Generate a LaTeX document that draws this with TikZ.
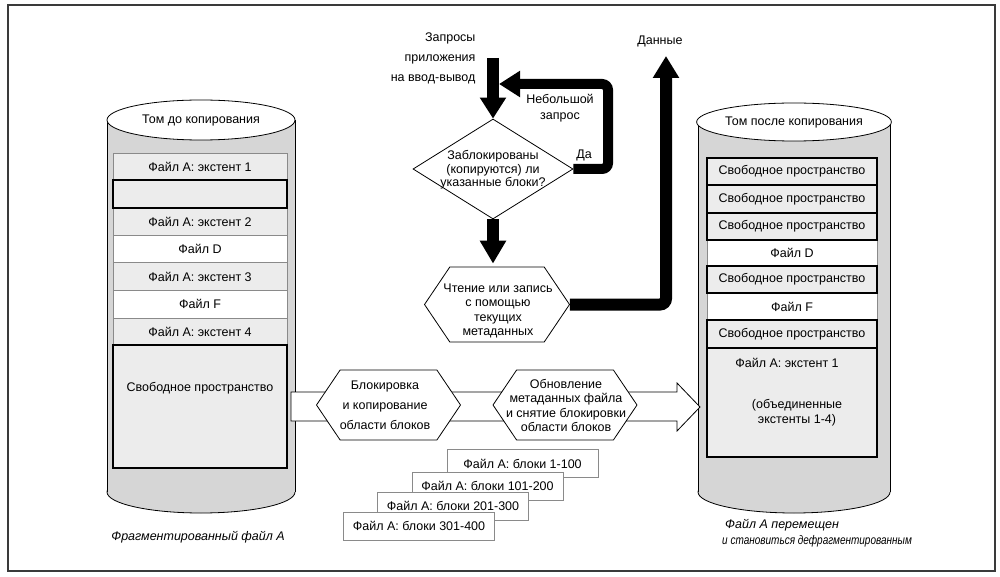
\documentclass[tikz,border=0pt]{standalone}
\usepackage{fontspec}
\usepackage{graphicx}
\setmainfont{Liberation Sans}
\usetikzlibrary{arrows.meta,shapes.geometric,shapes.symbols}
\definecolor{cylgray}{HTML}{D6D6D6}
\definecolor{rowgray}{HTML}{ECECEC}
\definecolor{rowline}{HTML}{8A8A8A}
\definecolor{framec}{HTML}{3A3A3A}
\newcommand\myfs[1]{\fontsize{12.5}{#1}\selectfont}
\begin{document}
\begin{tikzpicture}[x=1pt,y=-1pt,
  every node/.style={font=\myfs{15}},
  cell/.style={draw=rowline, line width=0.6pt, fill=rowgray, inner sep=0},
  lcell/.style={cell, minimum width=174pt},
  rcell/.style={cell, minimum width=170pt},
  thickcell/.style={draw=black, line width=1.1pt},
  whitecell/.style={fill=white},
  cyl/.style={draw=black, line width=0.8pt},
  hexa/.style={shape=signal, signal to=west and east, signal pointer angle=112, draw=black, line width=0.8pt, fill=white, inner sep=0},
  fat/.style={line width=#1, draw=black},
  blk/.style={draw=rowline, line width=0.7pt, fill=white, minimum width=151pt, minimum height=28pt, inner sep=0},
]
\useasboundingbox (0,0) rectangle (1000,577);
\fill[white] (0,0) rectangle (1000,577);
\draw[framec, line width=1.8pt] (8,5) rectangle (995,571);

% ---------- left cylinder
\filldraw[cylgray, cyl] (201,492) ellipse [x radius=94pt, y radius=21pt];
\fill[cylgray] (107,120) rectangle (295,492);
\draw[cyl] (107,120) -- (107,492) (295,120) -- (295,492);
\node[ellipse, cyl, fill=white, minimum width=188pt, minimum height=40pt, inner sep=0] (ltop) at (201,120) {Том до копирования};

\node[lcell, minimum height=27pt] (l1) at (200,166.5) {Файл А: экстент 1};
\node[lcell, minimum height=28pt] (l3) at (200,221.5) {Файл А: экстент 2};
\node[lcell, whitecell, minimum height=27.5pt] (l4) at (200,249) {Файл D};
\node[lcell, minimum height=27.5pt] (l5) at (200,276.5) {Файл А: экстент 3};
\node[lcell, whitecell, minimum height=28pt] (l6) at (200,304) {Файл F};
\node[lcell, minimum height=27pt] (l7) at (200,331.5) {Файл А: экстент 4};
\node[lcell, thickcell, minimum height=28pt] (l2) at (200,194) {};
\node[lcell, thickcell, minimum height=123pt] (l8) at (200,406.5) {};
\node (l8t) at (200,388) {Свободное пространство};
\node[font=\myfs{15}\itshape] (lcap) at (198,537) {Фрагментированный файл А};

% ---------- right cylinder
\filldraw[cylgray, cyl] (794,492) ellipse [x radius=96pt, y radius=21pt];
\fill[cylgray] (698,122) rectangle (890,492);
\draw[cyl] (698,122) -- (698,492) (890,122) -- (890,492);
\node[ellipse, cyl, fill=white, minimum width=192pt, minimum height=38pt, inner sep=0] (rtop) at (794,122) {Том после копирования};

\node[rcell, whitecell, minimum height=26pt] (r4) at (792,253) {Файл D};
\node[rcell, whitecell, minimum height=27pt] (r6) at (792,306.5) {Файл F};
\node[rcell, thickcell, minimum height=27pt] (r1) at (792,171.5) {Свободное пространство};
\node[rcell, thickcell, minimum height=28pt] (r2) at (792,199) {Свободное пространство};
\node[rcell, thickcell, minimum height=27pt] (r3) at (792,226.5) {Свободное пространство};
\node[rcell, thickcell, minimum height=27pt] (r5) at (792,279.5) {Свободное пространство};
\node[rcell, thickcell, minimum height=28pt] (r7) at (792,334) {Свободное пространство};
\node[rcell, thickcell, minimum height=109pt] (r8) at (792,402.5) {};
\node (r8a) at (787,363) {Файл А: экстент 1};
\node[align=center, font=\myfs{15}] (r8b) at (797,412.5) {(объединенные\\экстенты 1-4)};
\node[align=left, anchor=west, inner sep=0, font=\myfs{16}\itshape] (rcap) at (722,533) {\hspace*{3pt}Файл А перемещен\\\scalebox{0.8}[1]{и становиться дефрагментированным}};

% ---------- big hollow arrow
\filldraw[fill=white, draw=black, line width=0.8pt]
  (291,392) -- (677,392) -- (677,383) -- (700,407) -- (677,431) -- (677,421) -- (291,421) -- cycle;
\node[hexa, minimum width=144pt, minimum height=70pt] (h1) at (388.5,405) {};
\node[align=center, font=\myfs{20}] (h1t) at (385,405) {Блокировка\\и копирование\\области блоков};
\node[hexa, minimum width=144pt, minimum height=70pt] (h2) at (565,405) {};
\node[align=center, font=\myfs{14.3}] (h2t) at (566,405.5) {Обновление\\метаданных файла\\и снятие блокировки\\области блоков};

% ---------- stacked block boxes
\node[blk] (b1) at (522.5,463.5) {Файл А: блоки 1-100};
\node[blk] (b2) at (487.5,486) {Файл А: блоки 101-200};
\node[blk] (b3) at (453,506) {Файл А: блоки 201-300};
\node[blk] (b4) at (419,526) {Файл А: блоки 301-400};

% ---------- flowchart
\node[align=right, anchor=east, font=\myfs{20}] (req) at (479,58) {Запросы\\приложения\\на ввод-вывод};
\coordinate (reqs) at (493,58);
\node[diamond, draw=black, line width=0.8pt, fill=white, minimum width=160pt, minimum height=100pt, inner sep=0] (q) at (493,169) {};
\node[align=center, font=\myfs{13.3}] (qt) at (493,170) {Заблокированы\\(копируются) ли\\указанные блоки?};
\node[hexa, minimum width=145pt, minimum height=75pt] (h3) at (497,304.5) {};
\node[align=center, font=\myfs{14.5}] (h3t) at (498,311) {Чтение или запись\\с помощью\\текущих\\метаданных};

\draw[fat=12pt, -{Triangle[length=21pt,width=25pt]}] (reqs) -- (q.north);
\coordinate (fb) at (499,84);
\coordinate (loopc) at (608,84);
\draw[fat=10pt, rounded corners=6pt, -{Triangle[length=21pt,width=25pt]}] (q.east) -| (loopc) -- (fb);
\draw[fat=12pt, shorten >=3pt, -{Triangle[length=23pt,width=25pt]}] (q.south) -- (q.south |- h3.north);
\coordinate (dtip) at (666,56);
\draw[fat=12pt, rounded corners=6pt, -{Triangle[length=22pt,width=25pt]}] (h3.east) -| (dtip);

\node (small1) at (560,99) {Небольшой};
\node (small2) at (560,117) {запрос};
\node (yes) at (584,155) {Да};
\node (data) at (660,41) {Данные};
\end{tikzpicture}
\end{document}
